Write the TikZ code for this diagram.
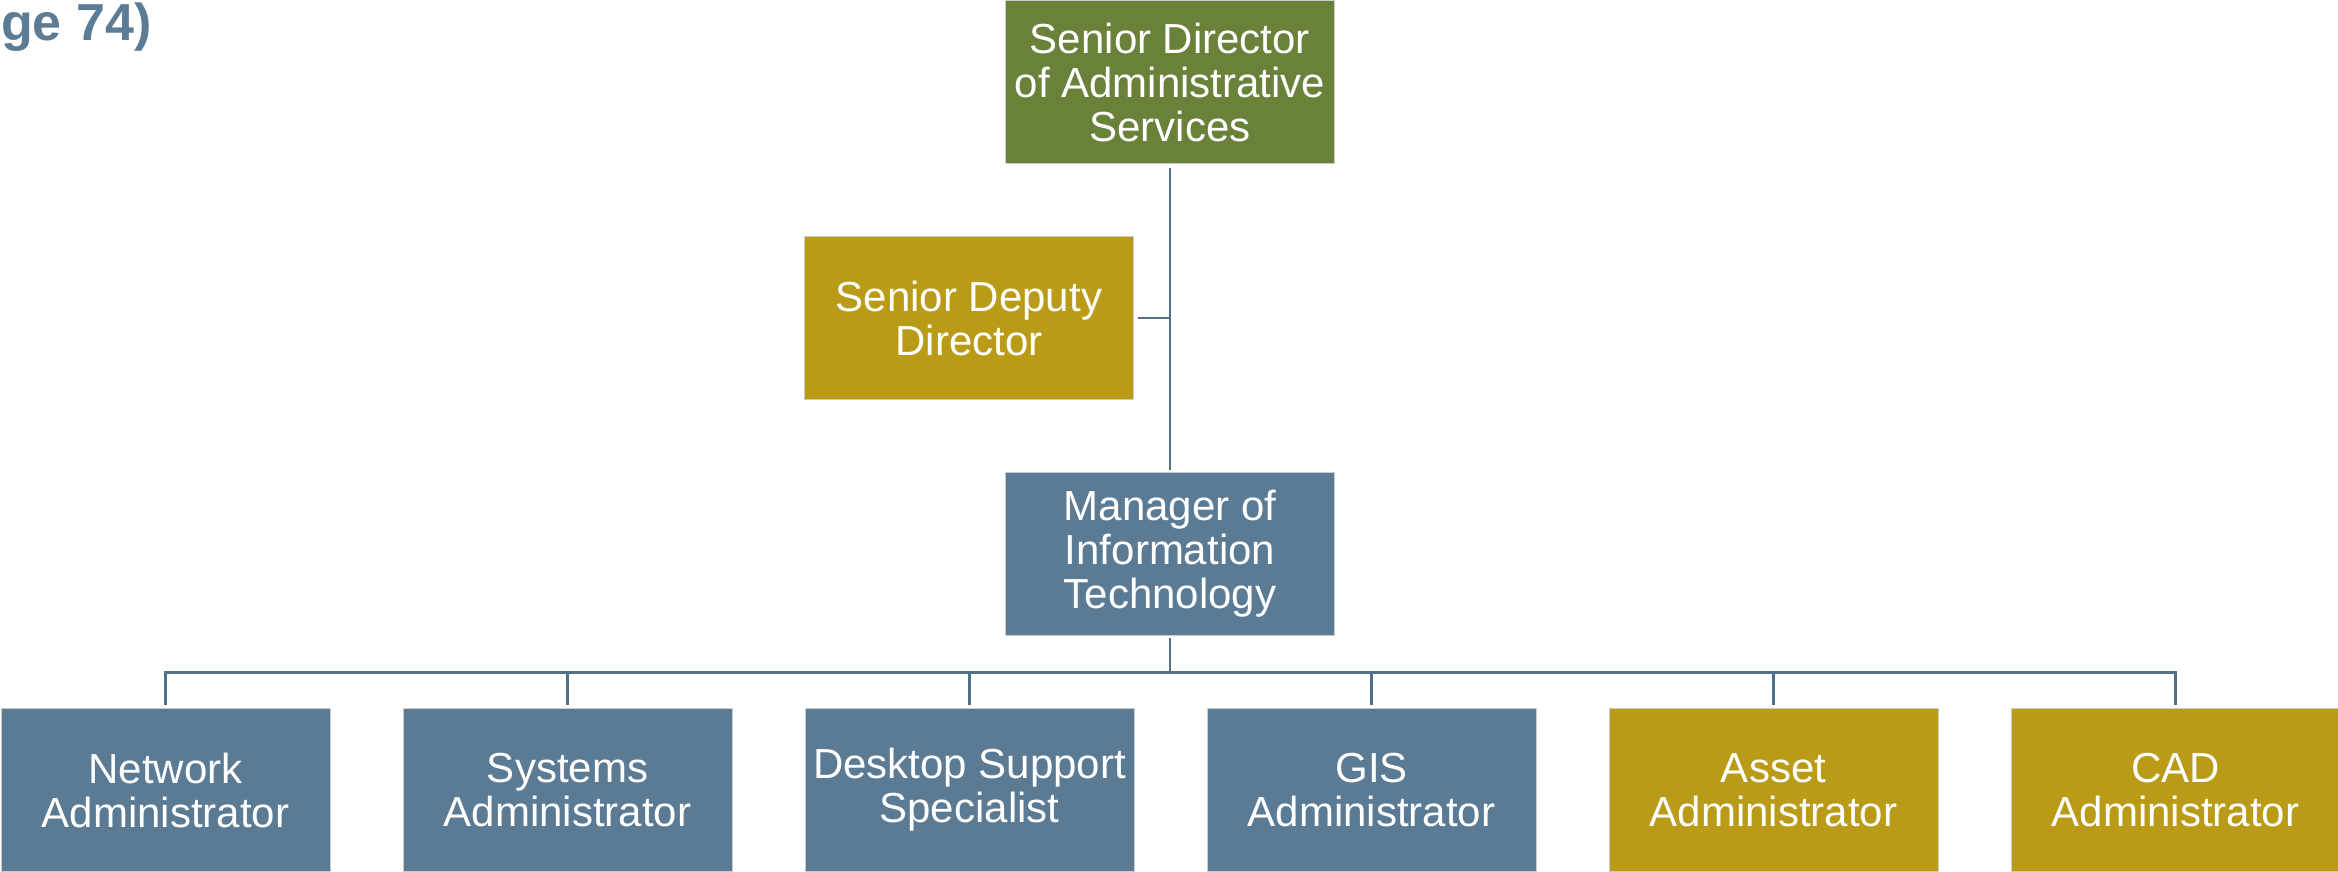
\documentclass[tikz,border=0pt]{standalone}
\usepackage{fontspec}
\setmainfont{Liberation Sans}
\definecolor{boxblue}{RGB}{91,123,149}
\definecolor{boxgreen}{RGB}{106,129,58}
\definecolor{boxgold}{RGB}{185,155,23}
\definecolor{linec}{RGB}{84,112,136}
\definecolor{titlec}{RGB}{92,124,150}
\tikzset{
  orgbox/.style={rectangle, minimum width=329pt, minimum height=163pt, inner sep=0pt,
    align=center, text=white, draw=white!80!black, line width=0.6pt,
    font=\fontsize{42}{44}\selectfont},
  bluebox/.style={orgbox, fill=boxblue},
  greenbox/.style={orgbox, fill=boxgreen},
  goldbox/.style={orgbox, fill=boxgold},
  conn/.style={draw=linec, line width=2.6pt}
}
\begin{document}
\begin{tikzpicture}[x=1pt,y=-1pt]
\useasboundingbox (0,0) rectangle (2338,872);
\node[anchor=base west, inner sep=0pt, text=titlec, font=\bfseries\fontsize{52}{56}\selectfont] (title) at (1,41) {ge 74)};
\node[greenbox] (top) at (1170,82) {Senior Director\\of Administrative\\Services};
\node[goldbox] (dep) at (969,318) {Senior Deputy\\Director};
\node[bluebox] (mgr) at (1170,553.5) {Manager of\\Information\\Technology};
\node[bluebox] (c1) at (165.5,790) {Network\\Administrator};
\node[bluebox] (c2) at (567.5,790) {Systems\\Administrator};
\node[bluebox] (c3) at (969.5,790) {Desktop Support\\Specialist};
\node[bluebox] (c4) at (1371.5,790) {GIS\\Administrator};
\node[goldbox] (c5) at (1773.5,790) {Asset\\Administrator};
\node[goldbox] (c6) at (2175.5,790) {CAD\\Administrator};
\draw[conn, shorten <=4pt, shorten >=2pt] (top.south) -- (mgr.north);
\draw[conn, shorten <=4pt] (dep.east) -- (dep.east -| top.south);
\foreach \c in {c1,c2,c3,c4,c5,c6}{
  \draw[conn, shorten <=3pt, shorten >=3pt] (mgr.south) -- ++(0,37) -| (\c.north);
}
\end{tikzpicture}
\end{document}
